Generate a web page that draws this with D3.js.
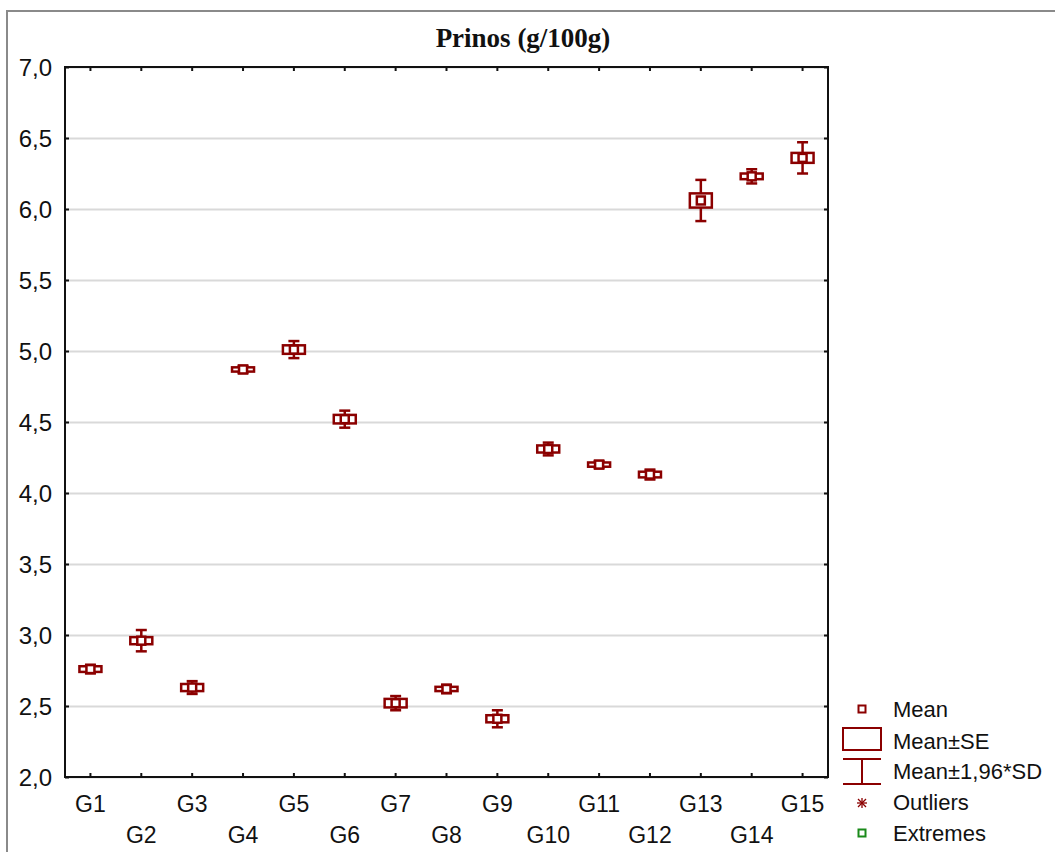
<!DOCTYPE html>
<html>
<head>
  <meta charset="UTF-8">
  <title>Prinos (g/100g)</title>
  <script src="https://cdnjs.cloudflare.com/ajax/libs/d3/7.8.5/d3.min.js"></script>
  <style>
    body { margin: 0; background: #fff; }
    svg { display: block; }
    .tick text { font-family: Arial, "Liberation Sans", sans-serif; fill: #111; }
  </style>
</head>
<body>
<svg id="chart" width="1055" height="852"></svg>
<script>
// Data
var groups = ['G1', 'G2', 'G3', 'G4', 'G5', 'G6', 'G7', 'G8', 'G9', 'G10', 'G11', 'G12', 'G13', 'G14', 'G15'];
var means = [2.76, 2.96, 2.63, 4.87, 5.01, 4.52, 2.52, 2.62, 2.41, 4.31, 4.20, 4.13, 6.06, 6.23, 6.36];
var se = [0.02, 0.025, 0.025, 0.015, 0.03, 0.03, 0.03, 0.015, 0.025, 0.025, 0.015, 0.02, 0.05, 0.02, 0.035];
var sd196 = [0.03, 0.075, 0.045, 0.025, 0.06, 0.06, 0.05, 0.03, 0.06, 0.045, 0.025, 0.035, 0.145, 0.05, 0.11];
var yTicks = [2.0, 2.5, 3.0, 3.5, 4.0, 4.5, 5.0, 5.5, 6.0, 6.5, 7.0];
var legendLabels = ['Mean', 'Mean±SE', 'Mean±1,96*SD', 'Outliers', 'Extremes'];

var red = '#8b0000';
var plot = { left: 65, top: 67, right: 828, bottom: 777 };

var svg = d3.select('#chart');

// outer frame
svg.append('rect')
  .attr('x', 7).attr('y', 11)
  .attr('width', 1100).attr('height', 900)
  .attr('fill', 'none').attr('stroke', '#8a8a8a').attr('stroke-width', 2);

// title
svg.append('text')
  .attr('x', 523).attr('y', 47)
  .attr('text-anchor', 'middle')
  .style('font-family', '"Liberation Serif", "Times New Roman", serif')
  .style('font-weight', 'bold')
  .style('font-size', '27px')
  .attr('fill', '#111')
  .text('Prinos (g/100g)');

var x = d3.scaleBand().domain(groups).range([plot.left, plot.right]);
var y = d3.scaleLinear().domain([2, 7]).range([plot.bottom, plot.top]);

var fmt = function(d) { return d3.format('.1f')(d).replace('.', ','); };

// grid
svg.append('g')
  .attr('transform', 'translate(' + plot.left + ',0)')
  .call(d3.axisLeft(y).tickValues(yTicks).tickSize(-(plot.right - plot.left)).tickFormat(''))
  .call(function(g) {
    g.select('.domain').remove();
    g.selectAll('line').attr('stroke', '#d9d9d9').attr('stroke-width', 2);
  });

// left axis
svg.append('g')
  .attr('transform', 'translate(' + plot.left + ',0)')
  .call(d3.axisLeft(y).tickValues(yTicks).tickSize(-4).tickPadding(13).tickFormat(fmt))
  .call(function(g) {
    g.select('.domain').remove();
    g.selectAll('line').attr('stroke', '#111').attr('stroke-width', 2);
    g.selectAll('text').style('font-size', '24px').attr('dy', '0.35em');
  });

// right axis ticks
svg.append('g')
  .attr('transform', 'translate(' + plot.right + ',0)')
  .call(d3.axisRight(y).tickValues(yTicks).tickSize(-4).tickFormat(''))
  .call(function(g) {
    g.select('.domain').remove();
    g.selectAll('line').attr('stroke', '#111').attr('stroke-width', 2);
  });

// top axis ticks
svg.append('g')
  .attr('transform', 'translate(0,' + plot.top + ')')
  .call(d3.axisTop(x).tickSize(-4).tickFormat(''))
  .call(function(g) {
    g.select('.domain').remove();
    g.selectAll('line').attr('stroke', '#111').attr('stroke-width', 2);
  });

// bottom axis
svg.append('g')
  .attr('transform', 'translate(0,' + plot.bottom + ')')
  .call(d3.axisBottom(x).tickSize(-4).tickPadding(0))
  .call(function(g) {
    g.select('.domain').remove();
    g.selectAll('line').attr('stroke', '#111').attr('stroke-width', 2);
    g.selectAll('text')
      .style('font-size', '23px')
      .attr('dy', null)
      .attr('y', function(d, i) { return i % 2 === 0 ? 35 : 66; });
  });

// plot frame
svg.append('rect')
  .attr('x', plot.left).attr('y', plot.top)
  .attr('width', plot.right - plot.left).attr('height', plot.bottom - plot.top)
  .attr('fill', 'none').attr('stroke', '#111').attr('stroke-width', 2);

// boxes
var boxW = 22, capW = 11, markS = 8;
var rows = groups.map(function(g, i) {
  return { g: g, mean: means[i], se: se[i], sd: sd196[i] };
});

var box = svg.append('g').selectAll('g.box')
  .data(rows).enter().append('g')
  .attr('class', 'box')
  .attr('transform', function(d) { return 'translate(' + (x(d.g) + x.bandwidth() / 2) + ',0)'; });

box.append('line')
  .attr('x1', 0).attr('x2', 0)
  .attr('y1', function(d) { return y(d.mean + d.sd); })
  .attr('y2', function(d) { return y(d.mean - d.sd); })
  .attr('stroke', red).attr('stroke-width', 2.5);

box.selectAll('line.cap')
  .data(function(d) { return [d.mean + d.sd, d.mean - d.sd]; })
  .enter().append('line')
  .attr('class', 'cap')
  .attr('x1', -capW / 2).attr('x2', capW / 2)
  .attr('y1', function(v) { return y(v); })
  .attr('y2', function(v) { return y(v); })
  .attr('stroke', red).attr('stroke-width', 2.5);

box.append('rect')
  .attr('x', -boxW / 2)
  .attr('y', function(d) { return y(d.mean + d.se); })
  .attr('width', boxW)
  .attr('height', function(d) { return y(d.mean - d.se) - y(d.mean + d.se); })
  .attr('fill', '#fff').attr('stroke', red).attr('stroke-width', 2.5);

box.append('rect')
  .attr('x', -markS / 2)
  .attr('y', function(d) { return y(d.mean) - markS / 2; })
  .attr('width', markS).attr('height', markS)
  .attr('fill', '#fff').attr('stroke', red).attr('stroke-width', 2.5);

// legend
var legend = svg.append('g');
var lx = 862, textX = 893;
var baselines = [717, 749, 779, 810, 841];

legend.append('rect')
  .attr('x', lx - 3.5).attr('y', 705.5).attr('width', 7).attr('height', 7)
  .attr('fill', '#fff').attr('stroke', red).attr('stroke-width', 2);

legend.append('rect')
  .attr('x', 843).attr('y', 728).attr('width', 38).attr('height', 22)
  .attr('fill', 'none').attr('stroke', red).attr('stroke-width', 2);

legend.append('line').attr('x1', 843).attr('x2', 881).attr('y1', 759).attr('y2', 759)
  .attr('stroke', red).attr('stroke-width', 2);
legend.append('line').attr('x1', 843).attr('x2', 881).attr('y1', 784).attr('y2', 784)
  .attr('stroke', red).attr('stroke-width', 2);
legend.append('line').attr('x1', lx).attr('x2', lx).attr('y1', 759).attr('y2', 784)
  .attr('stroke', red).attr('stroke-width', 2);

// asterisk for outliers
var ast = legend.append('g').attr('transform', 'translate(' + lx + ',803)');
[[-5, 0, 5, 0], [0, -5, 0, 5], [-4, -4, 4, 4], [-4, 4, 4, -4]].forEach(function(s) {
  ast.append('line').attr('x1', s[0]).attr('y1', s[1]).attr('x2', s[2]).attr('y2', s[3])
    .attr('stroke', red).attr('stroke-width', 1.3);
});

legend.append('rect')
  .attr('x', lx - 3.5).attr('y', 829.5).attr('width', 7).attr('height', 7)
  .attr('fill', '#fff').attr('stroke', '#1a8a1a').attr('stroke-width', 2);

legend.selectAll('text.lab')
  .data(legendLabels).enter().append('text')
  .attr('class', 'lab')
  .attr('x', textX)
  .attr('y', function(d, i) { return baselines[i]; })
  .style('font-family', 'Arial, "Liberation Sans", sans-serif')
  .style('font-size', '22px')
  .attr('fill', '#111')
  .text(function(d) { return d; });
</script>
</body>
</html>
